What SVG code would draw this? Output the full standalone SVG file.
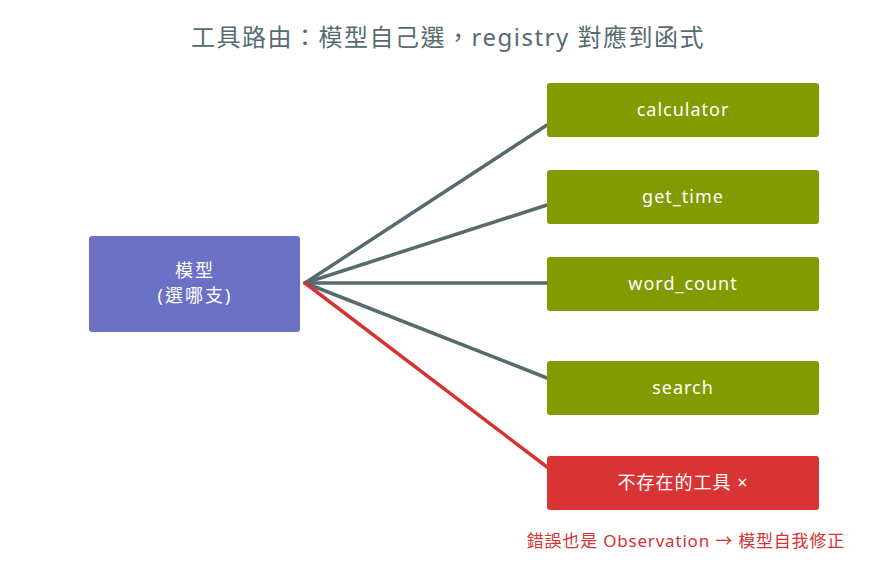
<svg xmlns="http://www.w3.org/2000/svg" width="894" height="564" viewBox="0 0 894 564">
<style>
text{font-family:"Noto Sans","Noto Sans CJK TC",sans-serif;}
.title{font-size:24px;fill:#566b70;text-anchor:middle;letter-spacing:1.5px;}
.g rect{fill:#819b00;}
.lbl{font-size:18px;fill:#ffffff;text-anchor:middle;letter-spacing:1px;}
.c{stroke:#566b70;stroke-width:3.5;fill:none;stroke-linecap:round;}
.cr{stroke:#d63232;stroke-width:3.5;fill:none;stroke-linecap:round;}
.note{font-size:17px;fill:#d63232;text-anchor:end;letter-spacing:0.8px;}
</style>
<rect width="894" height="564" fill="#ffffff"/>
<text class="title" x="448" y="46">工具路由：模型自己選，registry 對應到函式</text>
<g id="connectors">
<line class="c" x1="305" y1="283" x2="547" y2="125"/>
<line class="c" x1="305" y1="283" x2="547" y2="205"/>
<line class="c" x1="305" y1="283" x2="547" y2="283"/>
<line class="c" x1="305" y1="283" x2="547" y2="378"/>
<line class="cr" x1="305" y1="283" x2="547" y2="467"/>
</g>
<g id="model">
<rect x="89" y="236" width="211" height="96" rx="3" fill="#6b71c4"/>
<text class="lbl" x="195" y="277" style="letter-spacing:2px">模型</text>
<text class="lbl" x="195" y="302" style="letter-spacing:2px">(選哪支)</text>
</g>
<g id="calculator" class="g">
<rect x="547" y="83" width="272" height="54" rx="3"/>
<text class="lbl" x="683" y="116">calculator</text>
</g>
<g id="get_time" class="g">
<rect x="547" y="170" width="272" height="54" rx="3"/>
<text class="lbl" x="683" y="203">get_time</text>
</g>
<g id="word_count" class="g">
<rect x="547" y="257" width="272" height="54" rx="3"/>
<text class="lbl" x="683" y="290">word_count</text>
</g>
<g id="search" class="g">
<rect x="547" y="361" width="272" height="54" rx="3"/>
<text class="lbl" x="683" y="394">search</text>
</g>
<g id="missing">
<rect x="547" y="456" width="272" height="54" rx="3" fill="#d93434"/>
<text class="lbl" x="683" y="489">不存在的工具 ×</text>
</g>
<text class="note" x="845" y="547">錯誤也是 Observation → 模型自我修正</text>
</svg>
